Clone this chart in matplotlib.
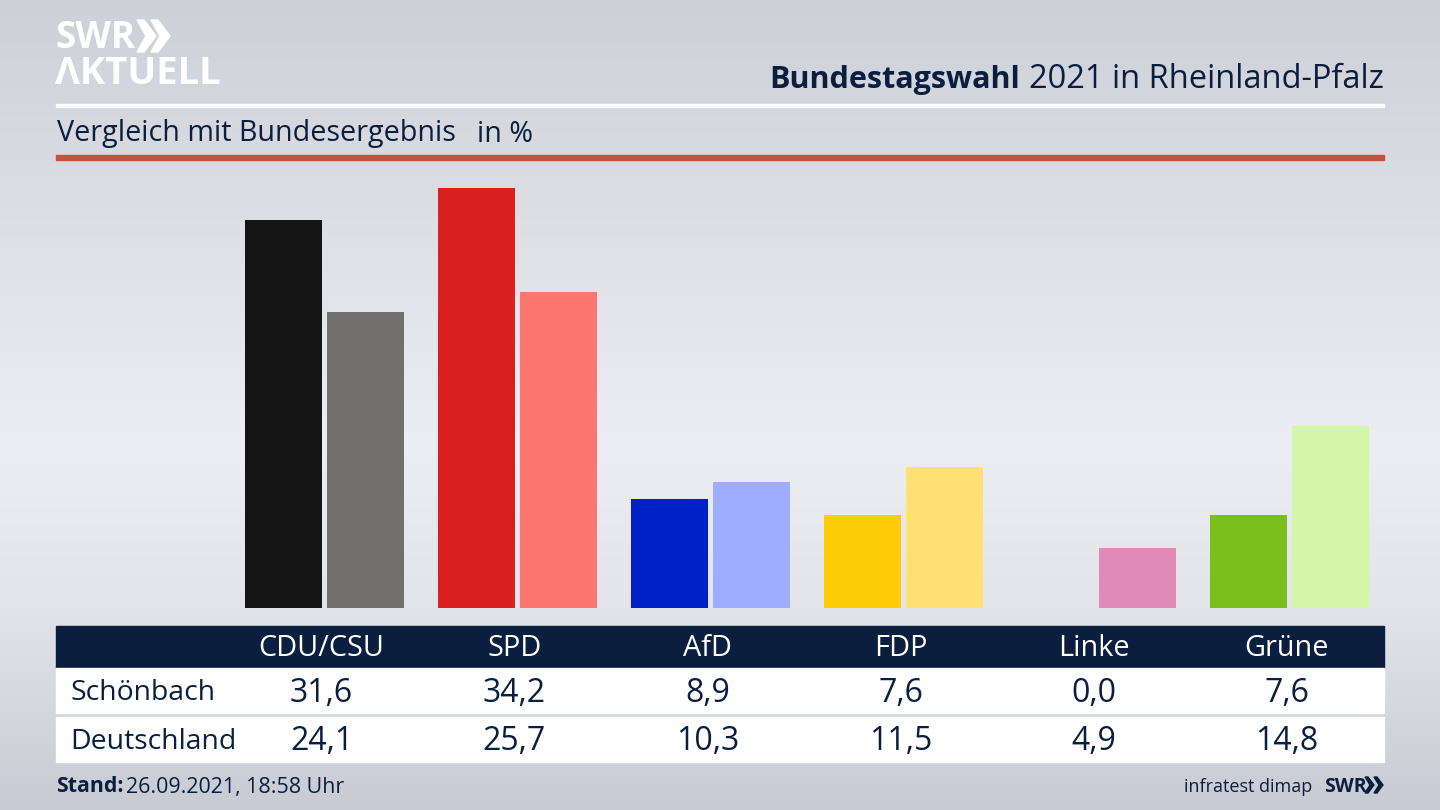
import numpy as np
import matplotlib
matplotlib.use("Agg")
import matplotlib.pyplot as plt
from matplotlib.colors import LinearSegmentedColormap
from matplotlib.patches import Rectangle, Polygon

plt.rcParams['font.family'] = ['Open Sans', 'DejaVu Sans']

parties = ["CDU/CSU", "SPD", "AfD", "FDP", "Linke", "Grüne"]
schoenbach = [31.6, 34.2, 8.9, 7.6, 0.0, 7.6]
deutschland = [24.1, 25.7, 10.3, 11.5, 4.9, 14.8]
colors_local = ["#141414", "#d9201f", "#0020c8", "#ffcc08", "#d060a0", "#7abf1c"]
colors_national = ["#72706c", "#ff7570", "#9eadff", "#ffe072", "#e08ab8", "#d3f6a8"]

NAVY = "#0a1f3f"
W, H = 1440, 810

fig = plt.figure(figsize=(W / 100, H / 100), dpi=100)

# page layer in pixel coordinates
page = fig.add_axes([0, 0, 1, 1])
page.set_xlim(0, W)
page.set_ylim(H, 0)
page.axis("off")

bg = LinearSegmentedColormap.from_list(
    "bg", [(0, "#cdd0d7"), (0.18, "#d8dae0"), (0.55, "#eceef3"), (0.75, "#e2e4ea"), (1, "#c8cbd3")])
page.imshow(np.linspace(0, 1, 256).reshape(-1, 1), cmap=bg, aspect="auto", extent=(0, W, H, 0), zorder=0)

# logo
page.text(55, 38, "SWR", color="white", fontsize=26.5, fontweight="bold", va="center", ha="left", zorder=3)
for x0 in (137, 151):
    page.add_patch(Polygon([(x0, 20), (x0 + 7, 20), (x0 + 19, 36), (x0 + 7, 52), (x0, 52), (x0 + 9, 36)],
                           color="white", zorder=3))
page.text(55, 74, "ΛKTUELL", color="white", fontsize=27.5, fontweight="bold", va="center", ha="left", zorder=3)

# header
page.text(1384, 80, "2021 in Rheinland-Pfalz", color=NAVY, fontsize=23.5, ha="right", va="center", zorder=3)
page.text(1020, 80, "Bundestagswahl", color=NAVY, fontsize=22, fontweight="bold", ha="right", va="center", zorder=3)
page.add_patch(Rectangle((56, 104), 1328, 3, color="white", zorder=2))
page.text(57, 134, "Vergleich mit Bundesergebnis", color=NAVY, fontsize=20.7, ha="left", va="center", zorder=3)
page.text(477, 134, "in %", color=NAVY, fontsize=20.7, ha="left", va="center", zorder=3)
page.add_patch(Rectangle((56, 155), 1328, 5, color="#c8503c", zorder=2))

# bars, about 12.28 px per percentage point, groups 193 px apart
ax = fig.add_axes([56 / W, 1 - 608 / H, 1328 / W, 448 / H])
ax.patch.set_alpha(0)
ax.set_xlim((56 - 324.5) / 193, (1384 - 324.5) / 193)
ax.set_ylim(0, 448 / 12.28)
ax.axis("off")
x = np.arange(len(parties))
ax.bar(x - 0.2125, schoenbach, width=0.4, color=colors_local)
ax.bar(x + 0.2125, deutschland, width=0.4, color=colors_national)

# table
page.add_patch(Rectangle((56, 626), 1328, 42, color=NAVY, zorder=2))
page.add_patch(Rectangle((56, 668), 1328, 45, color="white", zorder=2))
page.add_patch(Rectangle((56, 717), 1328, 45, color="white", zorder=2))
page.text(70, 693, "Schönbach", color=NAVY, fontsize=20.4, va="center", ha="left", zorder=3)
page.text(70, 742, "Deutschland", color=NAVY, fontsize=20.4, va="center", ha="left", zorder=3)
for i, p in enumerate(parties):
    cx = 321.5 + 193 * i
    page.text(cx, 649, p, color="white", fontsize=20.8, ha="center", va="center", zorder=3)
    page.text(cx, 693, f"{schoenbach[i]:.1f}".replace(".", ","), color=NAVY, fontsize=23,
              ha="center", va="center", zorder=3)
    page.text(cx, 742, f"{deutschland[i]:.1f}".replace(".", ","), color=NAVY, fontsize=23,
              ha="center", va="center", zorder=3)

# footer
page.text(56, 787, "Stand:", color=NAVY, fontsize=15.3, fontweight="bold", va="center", ha="left", zorder=3)
page.text(126, 787, "26.09.2021, 18:58 Uhr", color=NAVY, fontsize=15.4, va="center", ha="left", zorder=3)
page.text(1312, 787, "infratest dimap", color=NAVY, fontsize=13, va="center", ha="right", zorder=3)
page.text(1324, 787, "SWR", color=NAVY, fontsize=14, fontweight="bold", va="center", ha="left", zorder=3)
for x0 in (1365, 1374):
    page.add_patch(Polygon([(x0, 777), (x0 + 3, 777), (x0 + 9, 785), (x0 + 3, 793), (x0, 793), (x0 + 5, 785)],
                           color=NAVY, zorder=3))

fig.savefig("out.png", dpi=100)
